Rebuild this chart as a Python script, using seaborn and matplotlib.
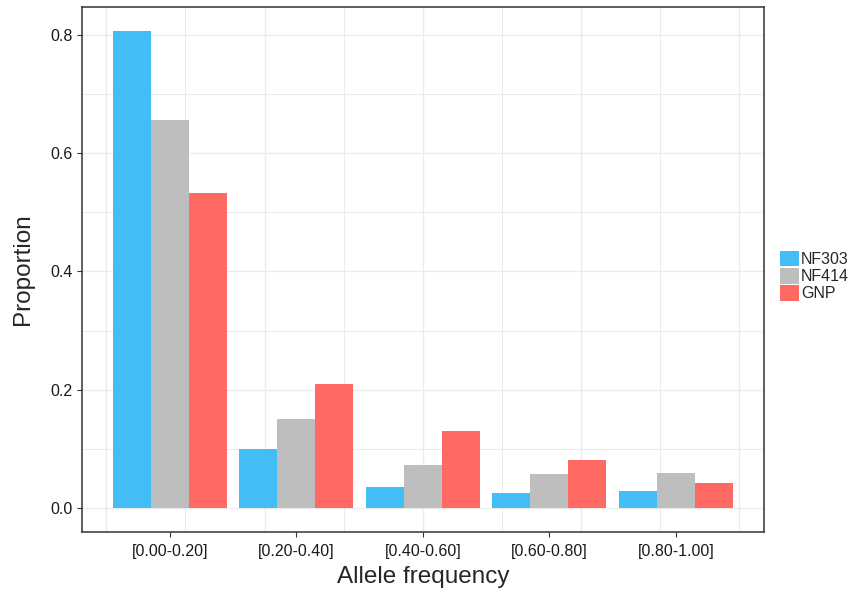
import matplotlib
matplotlib.use("Agg")
import matplotlib.pyplot as plt
from matplotlib.patches import Patch
import numpy as np
import pandas as pd
import seaborn as sns

# Allele frequency bins and proportion of variants per population
bins = ["[0.00-0.20]", "[0.20-0.40]", "[0.40-0.60]", "[0.60-0.80]", "[0.80-1.00]"]
groups = ["NF303", "NF414", "GNP"]
nf303 = [0.807, 0.100, 0.036, 0.025, 0.029]
nf414 = [0.656, 0.151, 0.073, 0.058, 0.060]
gnp = [0.533, 0.210, 0.130, 0.081, 0.043]
colors = ["#42BDF6", "#BEBEBE", "#FF6863"]

df = pd.DataFrame({
    "bin": bins * 3,
    "group": [g for g in groups for _ in bins],
    "prop": nf303 + nf414 + gnp,
})

sns.set_theme(style="white")
plt.rcParams["font.family"] = ["Liberation Sans", "DejaVu Sans"]

fig = plt.figure(figsize=(8.5, 5.92), dpi=100)
ax = fig.add_axes([0.0961, 0.1014, 0.8027, 0.8868])

sns.barplot(data=df, x="bin", y="prop", hue="group", order=bins,
            hue_order=groups, palette=colors, width=0.9, saturation=1,
            errorbar=None, ax=ax, legend=False, zorder=3)
for p in ax.patches:
    p.set_edgecolor("none")
    p.set_linewidth(0)

ax.set_xlim(-0.695, 4.695)
ax.set_ylim(-0.0404, 0.847)

# background grid (continuous 0-1 frequency scale behind the bins)
for k in range(9):
    xv = -0.5 + 0.625 * k
    ax.axvline(xv, color="#EBEBEB", lw=1.0 if k % 2 == 0 else 0.7, zorder=0)
for k in range(9):
    yv = 0.1 * k
    ax.axhline(yv, color="#EBEBEB", lw=1.0 if k % 2 == 0 else 0.7, zorder=0)

ax.set_yticks([0.0, 0.2, 0.4, 0.6, 0.8])
ax.set_yticklabels(["0.0", "0.2", "0.4", "0.6", "0.8"])
ax.tick_params(axis="both", which="major", length=3.5, width=0.8,
               color="#333333", labelsize=11.5, labelcolor="#1A1A1A",
               left=True, bottom=True, pad=3)
ax.tick_params(axis="x", pad=5)

for s in ax.spines.values():
    s.set_color("#333333")
    s.set_linewidth(1.1)

ax.set_xlabel("Allele frequency", fontsize=17.5, labelpad=5)
ax.set_ylabel("Proportion", fontsize=17.5, labelpad=12)

handles = [Patch(facecolor=c, edgecolor="none", label=g) for c, g in zip(colors, groups)]
fig.legend(handles=handles, loc="center left", bbox_to_anchor=(0.918, 0.534),
           frameon=False, fontsize=11.5, handlelength=1.15, handleheight=1.15,
           handletextpad=0.15, labelspacing=0.05, borderaxespad=0,
           borderpad=0)

fig.savefig("out.png", dpi=100)
